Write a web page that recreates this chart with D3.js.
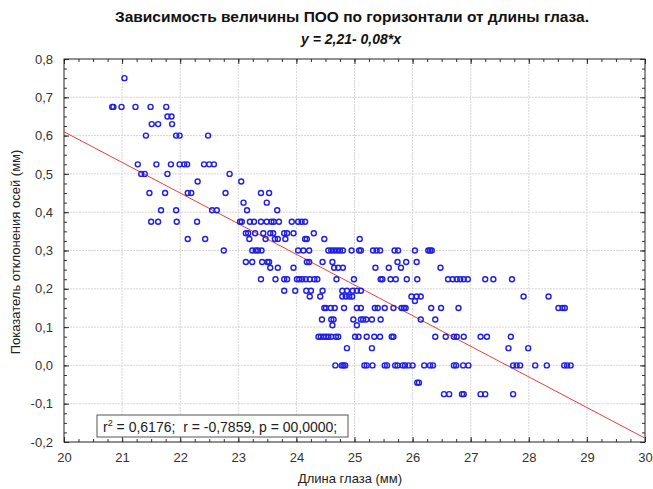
<!DOCTYPE html>
<html><head><meta charset="utf-8">
<script src="https://cdn.jsdelivr.net/npm/d3@7"></script>
<style>
body{margin:0;background:#fff;}
text{font-family:"Liberation Sans",Arial,sans-serif;}
</style></head>
<body><svg id="c" width="653" height="489"></svg>
<script>
const title = "Зависимость величины ПОО по горизонтали от длины глаза.";
const subtitle = "y = 2,21- 0,08*x";
const xLabel = "Длина глаза (мм)";
const yLabel = "Показатель отклонения осей (мм)";
const statText = ["r", "2", " = 0,6176;  r = -0,7859, p = 00,0000;"];
const xTicks = [20,21,22,23,24,25,26,27,28,29,30];
const yTicks = [-0.2,-0.1,0,0.1,0.2,0.3,0.4,0.5,0.6,0.7,0.8];
const regA = 2.21, regB = -0.08;

// Data grouped by y level: [y, [x values...]]
const rows = [
 [0.75,[21.04]],
 [0.675,[20.83,20.85,20.99,21.23,21.49,21.76]],
 [0.65,[21.78,21.85]],
 [0.63,[21.51,21.62,21.86]],
 [0.6,[21.41,21.93,21.99,22.48]],
 [0.525,[21.27,21.59,21.84,21.99,22.07,22.12,22.41,22.50,22.58]],
 [0.5,[21.33,21.39,21.78,22.85]],
 [0.48,[22.30,23.05]],
 [0.45,[21.47,21.74,22.13,22.19,22.78,23.39,23.53]],
 [0.425,[23.09,23.49]],
 [0.405,[21.67,21.93,22.55,22.63,23.15,23.67]],
 [0.375,[21.50,21.62,21.94,22.29,23.03,23.06,23.20,23.27,23.39,23.49,23.57,23.61,23.70,23.92,24.03,24.09,24.15]],
 [0.345,[23.13,23.17,23.29,23.43,23.55,23.60,23.79,23.84,23.95,24.30]],
 [0.33,[22.13,22.43,23.19,23.47,23.63,23.68,23.81,24.15,24.18,24.48,25.09]],
 [0.3,[22.75,23.24,23.30,23.34,23.40,24.03,24.12,24.22,24.55,24.60,24.65,24.70,24.75,24.80,24.95,25.08,25.11,25.32,25.38,25.44,25.69,25.75,26.04,26.27,26.30,26.33]],
 [0.27,[23.13,23.24,23.41,23.50,23.53,24.18,24.22,24.45,24.62,25.74,25.89,26.07]],
 [0.255,[23.55,23.68,23.95,24.65,24.72,24.80,25.36,25.59,25.80,26.48]],
 [0.225,[23.39,23.64,23.79,23.84,24.01,24.05,24.10,24.16,24.23,24.31,24.36,24.69,24.99,25.45,25.48,25.62,25.71,25.90,26.08,26.61,26.69,26.76,26.82,26.88,26.95,27.25,27.39,27.71]],
 [0.195,[23.79,23.98,24.17,24.25,24.45,24.79,24.87,24.97,25.04,25.11]],
 [0.18,[24.23,24.41,24.79,24.85,24.91,24.96,25.98,26.07,26.14,27.91,28.34]],
 [0.168,[26.04]],
 [0.15,[24.48,24.51,24.59,24.66,24.82,25.04,25.11,25.35,25.40,25.52,25.67,25.81,25.85,25.88,26.32,26.49,26.79,28.51,28.58,28.62]],
 [0.12,[24.44,24.60,24.64,24.98,25.11,25.15,25.20,25.30,25.45,26.14,26.39]],
 [0.105,[24.62,25.04]],
 [0.075,[24.38,24.42,24.47,24.51,24.55,24.60,24.68,24.72,25.01,25.07,25.21,25.34,25.44,25.64,25.67,26.39,26.57,26.71,26.76,26.88,27.17,27.28,27.69]],
 [0.045,[24.87,25.30,27.65,27.99]],
 [0.0,[24.67,24.78,24.81,24.84,25.17,25.21,25.31,25.52,25.56,25.70,25.74,25.83,25.87,25.93,26.00,26.20,26.30,26.35,26.71,26.75,26.87,26.96,27.73,27.79,27.85,28.11,28.31,28.61,28.66,28.72]],
 [-0.045,[26.08,26.11]],
 [-0.075,[26.54,26.63,26.85,26.88,27.17,27.25,27.73]]
];
const points = [];
rows.forEach(([y,xs]) => xs.forEach(x => points.push({x, y})));

const svg = d3.select("#c");
const L = 64, R = 645, T = 59, B = 442;
const x = d3.scaleLinear().domain([20,30]).range([L,R]);
const y = d3.scaleLinear().domain([-0.2,0.8]).range([B,T]);

// grid
const g = svg.append("g");
g.selectAll(".gx").data(xTicks.slice(1,-1)).join("line")
  .attr("x1",d=>x(d)).attr("x2",d=>x(d)).attr("y1",T).attr("y2",B)
  .attr("stroke","#d6d6d6").attr("stroke-width",1).attr("stroke-dasharray","2,1");
g.selectAll(".gy").data(yTicks.slice(1,-1)).join("line")
  .attr("y1",d=>y(d)).attr("y2",d=>y(d)).attr("x1",L).attr("x2",R)
  .attr("stroke","#d6d6d6").attr("stroke-width",1).attr("stroke-dasharray","2,1");

// axes with inward ticks
const xMinor = d3.range(0,41).map(i=>20+i*0.25);
const yMinor = d3.range(0,41).map(i=>-0.2+i*0.025);
const axC = "#333";
svg.append("g").attr("transform",`translate(0,${B})`)
  .call(d3.axisBottom(x).tickValues(xMinor).tickSize(-3).tickFormat(""))
  .call(a=>a.select(".domain").remove()).selectAll("line").attr("stroke",axC);
svg.append("g").attr("transform",`translate(0,${T})`)
  .call(d3.axisTop(x).tickValues(xMinor).tickSize(-3).tickFormat(""))
  .call(a=>a.select(".domain").remove()).selectAll("line").attr("stroke",axC);
svg.append("g").attr("transform",`translate(${L},0)`)
  .call(d3.axisLeft(y).tickValues(yMinor).tickSize(-3).tickFormat(""))
  .call(a=>a.select(".domain").remove()).selectAll("line").attr("stroke",axC);
svg.append("g").attr("transform",`translate(${R},0)`)
  .call(d3.axisRight(y).tickValues(yMinor).tickSize(-3).tickFormat(""))
  .call(a=>a.select(".domain").remove()).selectAll("line").attr("stroke",axC);

// major labels
const fmt = d => d3.format(".1f")(d).replace(".",",").replace("−","-");
const xa = svg.append("g").attr("transform",`translate(0,${B})`)
  .call(d3.axisBottom(x).tickValues(xTicks).tickSize(-5).tickPadding(11).tickFormat(d3.format("d")));
xa.select(".domain").remove();
xa.selectAll("line").attr("stroke",axC);
xa.selectAll("text").attr("font-size",13).attr("fill","#333").attr("font-family","Liberation Sans, Arial, sans-serif");
const ya = svg.append("g").attr("transform",`translate(${L},0)`)
  .call(d3.axisLeft(y).tickValues(yTicks).tickSize(-5).tickPadding(11).tickFormat(fmt));
ya.select(".domain").remove();
ya.selectAll("line").attr("stroke",axC);
ya.selectAll("text").attr("font-size",13).attr("fill","#333").attr("font-family","Liberation Sans, Arial, sans-serif");
const ya2 = svg.append("g").attr("transform",`translate(${R},0)`)
  .call(d3.axisRight(y).tickValues(yTicks).tickSize(-5).tickFormat(""));
ya2.select(".domain").remove(); ya2.selectAll("line").attr("stroke",axC);
const xa2 = svg.append("g").attr("transform",`translate(0,${T})`)
  .call(d3.axisTop(x).tickValues(xTicks).tickSize(-5).tickFormat(""));
xa2.select(".domain").remove(); xa2.selectAll("line").attr("stroke",axC);

// frame
svg.append("rect").attr("x",L).attr("y",T).attr("width",R-L).attr("height",B-T)
  .attr("fill","none").attr("stroke","#222").attr("stroke-width",1);

// clip
svg.append("clipPath").attr("id","clip").append("rect")
  .attr("x",L).attr("y",T).attr("width",R-L).attr("height",B-T);

// regression line
const line = d3.line().x(d=>x(d)).y(d=>y(regA+regB*d));
svg.append("path").datum([20,30]).attr("d",line).attr("clip-path","url(#clip)")
  .attr("fill","none").attr("stroke","#e8403a").attr("stroke-width",1);

// points
svg.append("g").attr("clip-path","url(#clip)").selectAll("circle").data(points).join("circle")
  .attr("cx",d=>x(d.x)).attr("cy",d=>y(d.y)).attr("r",2.5)
  .attr("fill","none").attr("stroke","#1f1fe6").attr("stroke-width",1.4);

// stats box
const bx = 97, by = 415, bw = 251, bh = 22;
svg.append("rect").attr("x",bx).attr("y",by).attr("width",bw).attr("height",bh)
  .attr("fill","#fff").attr("stroke","#555").attr("stroke-width",1);
const st = svg.append("text").attr("x",bx+6).attr("y",by+17).attr("font-size",14)
  .attr("fill","#222").style("white-space","pre");
st.append("tspan").text(statText[0]);
st.append("tspan").attr("dy",-6).attr("font-size",9).text(statText[1]);
st.append("tspan").attr("dy",6).text(statText[2]);

// titles
svg.append("text").attr("x",352).attr("y",22).attr("text-anchor","middle")
  .attr("font-size",15).attr("font-weight","bold").attr("fill","#111")
  .attr("textLength",474).attr("lengthAdjust","spacingAndGlyphs").text(title);
svg.append("text").attr("x",351).attr("y",44).attr("text-anchor","middle")
  .attr("font-size",14).attr("font-weight","bold").attr("font-style","italic").attr("fill","#111").text(subtitle);
svg.append("text").attr("x",350).attr("y",483).attr("text-anchor","middle")
  .attr("font-size",13).attr("fill","#222").text(xLabel);
svg.append("text").attr("transform","translate(20,252) rotate(-90)").attr("text-anchor","middle")
  .attr("font-size",13).attr("fill","#222").text(yLabel);
</script></body></html>
